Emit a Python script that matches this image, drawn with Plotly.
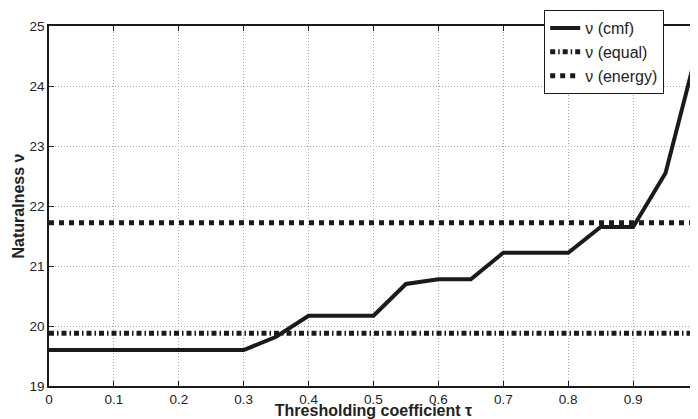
import plotly.graph_objects as go

tau = [0, 0.05, 0.1, 0.15, 0.2, 0.25, 0.3, 0.35, 0.4, 0.45, 0.5, 0.55, 0.6, 0.65, 0.7, 0.75, 0.8, 0.85, 0.9, 0.95, 1.0]
nu_cmf = [19.6, 19.6, 19.6, 19.6, 19.6, 19.6, 19.6, 19.82, 20.17, 20.17, 20.17, 20.7, 20.78, 20.78, 21.22, 21.22, 21.22, 21.65, 21.65, 22.55, 24.65]
nu_equal = [19.88] * len(tau)
nu_energy = [21.72] * len(tau)
x_ticks = [0, 0.1, 0.2, 0.3, 0.4, 0.5, 0.6, 0.7, 0.8, 0.9, 1]
x_tick_labels = ["0", "0.1", "0.2", "0.3", "0.4", "0.5", "0.6", "0.7", "0.8", "0.9", "1"]
y_ticks = [19, 20, 21, 22, 23, 24, 25]

FONT = "Liberation Sans, Arial, sans-serif"

fig = go.Figure()
fig.add_trace(go.Scatter(x=tau, y=nu_cmf, mode="lines", name="ν (cmf)",
                         line=dict(color="#1a1a1a", width=4)))
fig.add_trace(go.Scatter(x=tau, y=nu_equal, mode="lines", name="ν (equal)",
                         line=dict(color="#1a1a1a", width=5, dash="5px,3px,1.5px,3px")))
fig.add_trace(go.Scatter(x=tau, y=nu_energy, mode="lines", name="ν (energy)",
                         line=dict(color="#1a1a1a", width=5, dash="5px,5px")))

axis_common = dict(
    showline=True, linecolor="#1a1a1a", linewidth=1.5, mirror="ticks",
    ticks="inside", ticklen=5, tickcolor="#1a1a1a", tickwidth=1,
    showgrid=True, gridcolor="#a8a8a8", griddash="1px,2px", gridwidth=1,
    zeroline=False, tickfont=dict(family=FONT, size=13.5, color="#222"),
)

# page body has an 8px default margin, so the figure is sized/offset to compensate
fig.update_layout(
    width=690, height=411,
    margin=dict(l=41, r=0, t=18, b=33),
    plot_bgcolor="white", paper_bgcolor="white",
    font=dict(family=FONT, color="#222"),
    xaxis=dict(range=[0, 1], tickvals=x_ticks, ticktext=x_tick_labels,
               title=dict(text="<b>Thresholding coefficient τ</b>", font=dict(size=16), standoff=0),
               automargin=False, **axis_common),
    yaxis=dict(range=[19, 25], tickvals=y_ticks,
               title=dict(text="<b>Naturalness ν</b>", font=dict(size=16), standoff=1),
               automargin=False, **axis_common),
    legend=dict(x=0.763, y=1.044, xanchor="left", yanchor="top",
                bgcolor="white", bordercolor="#1a1a1a", borderwidth=1,
                font=dict(size=16), tracegroupgap=0, itemwidth=30),
    showlegend=True,
)

fig.write_html("out.html")
